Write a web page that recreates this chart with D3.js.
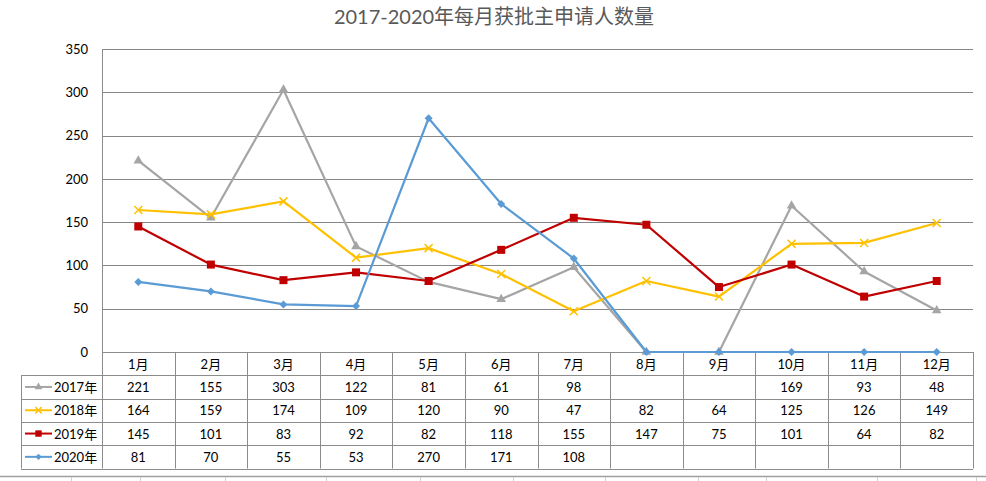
<!DOCTYPE html>
<html><head><meta charset="utf-8">
<script src="https://cdn.jsdelivr.net/npm/d3@7/dist/d3.min.js"></script>
<style>
html,body{margin:0;padding:0;background:#fff;}
svg{display:block;font-family:Lato,"Noto Sans CJK SC",sans-serif;}
</style></head>
<body>
<svg id="chart" width="986" height="481"></svg>
<script>
const months = ["1月","2月","3月","4月","5月","6月","7月","8月","9月","10月","11月","12月"];
const seriesNames = ["2017年","2018年","2019年","2020年"];
const v2017 = [221,155,303,122,81,61,98,null,null,169,93,48];
const v2018 = [164,159,174,109,120,90,47,82,64,125,126,149];
const v2019 = [145,101,83,92,82,118,155,147,75,101,64,82];
const v2020 = [81,70,55,53,270,171,108,null,null,null,null,null];
const yTicks = [0,50,100,150,200,250,300,350];
const chartTitle = "2017-2020年每月获批主申请人数量";

(function(){
const colors = ["#A5A5A5","#FFC000","#C00000","#5B9BD5"];
const markers = ["triangle","cross","square","diamond"];
const allSeries = [v2017,v2018,v2019,v2020];

const svg = d3.select("#chart");
const pL = 102, pR = 973, pT = 49, pB = 352;
const rowH = 23.3;

const x = d3.scaleBand().domain(months).range([pL,pR]).paddingInner(0).paddingOuter(0);
const y = d3.scaleLinear().domain([0,350]).range([pB,pT]);

svg.append("text").attr("x",494).attr("y",24).attr("text-anchor","middle")
  .attr("font-size",20).attr("fill","#595959").text(chartTitle);

svg.append("g").selectAll("line").data(yTicks.filter(d=>d>0)).join("line")
  .attr("x1",pL).attr("x2",pR).attr("y1",d=>Math.round(y(d))+0.5).attr("y2",d=>Math.round(y(d))+0.5)
  .attr("stroke","#868686").attr("stroke-width",1);

const yAxis = d3.axisLeft(y).tickValues(yTicks).tickSize(0).tickPadding(14);
const ya = svg.append("g").attr("transform",`translate(${pL},0)`).call(yAxis);
ya.select(".domain").remove();
ya.selectAll("text").attr("font-size",13).attr("fill","#000").attr("font-family","Lato,'Noto Sans CJK SC',sans-serif");

const tableTop = pB;
const rows = 5;
const tableBottom = tableTop + rows*rowH;
const legendLeft = 21;
const g = svg.append("g").attr("stroke","#8c8c8c").attr("stroke-width",1);
for(let i=0;i<=rows;i++){
  const yy = Math.round(tableTop+i*rowH)+0.5;
  g.append("line").attr("x1", i===0?pL:legendLeft).attr("x2",pR).attr("y1",yy).attr("y2",yy);
}
g.append("line").attr("x1",legendLeft+0.5).attr("x2",legendLeft+0.5).attr("y1",tableTop+rowH).attr("y2",tableBottom);
g.append("line").attr("x1",pL+0.5).attr("x2",pL+0.5).attr("y1",pT).attr("y2",tableBottom);
months.forEach(m=>{
  const xx = Math.round(x(m)+x.bandwidth())+0.5;
  g.append("line").attr("x1",xx).attr("x2",xx).attr("y1",tableTop).attr("y2",tableBottom);
});

svg.append("g").selectAll("text").data(months).join("text")
  .attr("x",d=>x(d)+x.bandwidth()/2).attr("y",tableTop+rowH/2+5)
  .attr("text-anchor","middle").attr("font-size",13).attr("fill","#000").text(d=>d);

function drawMarker(parent, type, cx, cy, color, s){
  s = s||1;
  if(type==="triangle"){
    parent.append("path").attr("d",d3.symbol(d3.symbolTriangle, 40*s*s)()).attr("transform",`translate(${cx},${cy})`).attr("fill",color);
  } else if(type==="square"){
    const w=8*s;
    parent.append("rect").attr("x",cx-w/2).attr("y",cy-w/2).attr("width",w).attr("height",w).attr("fill",color);
  } else if(type==="diamond"){
    const r=4*s;
    parent.append("path").attr("d",`M${cx},${cy-r}L${cx+r},${cy}L${cx},${cy+r}L${cx-r},${cy}Z`).attr("fill",color);
  } else if(type==="cross"){
    const r=4*s;
    parent.append("path").attr("d",`M${cx-r},${cy-r}L${cx+r},${cy+r}M${cx-r},${cy+r}L${cx+r},${cy-r}`).attr("stroke",color).attr("stroke-width",1.5).attr("fill","none");
  }
}

allSeries.forEach((vals,si)=>{
  const ry = tableTop+(si+1)*rowH+rowH/2+5;
  svg.append("g").selectAll("text").data(vals.map((v,i)=>({v,m:months[i]})).filter(d=>d.v!==null)).join("text")
    .attr("x",d=>x(d.m)+x.bandwidth()/2).attr("y",ry)
    .attr("text-anchor","middle").attr("font-size",13).attr("fill","#000").text(d=>d.v);
  const ky = tableTop+(si+1)*rowH+rowH/2;
  svg.append("line").attr("x1",25).attr("x2",52).attr("y1",ky).attr("y2",ky)
    .attr("stroke",colors[si]).attr("stroke-width",2);
  drawMarker(svg, markers[si], 38.5, ky, colors[si], 0.8);
  svg.append("text").attr("x",54).attr("y",ry).attr("font-size",13).attr("fill","#000").text(seriesNames[si]);
});

const line = d3.line().x(d=>x(d.m)+x.bandwidth()/2).y(d=>y(d.v===null?0:d.v));
allSeries.forEach((vals,si)=>{
  const data = vals.map((v,i)=>({v,m:months[i]}));
  svg.append("path").datum(data).attr("d",line).attr("fill","none")
    .attr("stroke",colors[si]).attr("stroke-width",2.2).attr("stroke-linejoin","round");
  data.forEach(d=>drawMarker(svg, markers[si], x(d.m)+x.bandwidth()/2, y(d.v===null?0:d.v), colors[si], 1));
});

svg.append("line").attr("x1",0).attr("x2",986).attr("y1",476.5).attr("y2",476.5).attr("stroke","#a0a0a0").attr("stroke-width",1.5);
const cuts = [71,140,225,326,420,513,605,698,766,877,976];
svg.append("g").selectAll("line").data(cuts).join("line")
  .attr("x1",d=>d+0.5).attr("x2",d=>d+0.5).attr("y1",477).attr("y2",481).attr("stroke","#d0d0d0");
})();
</script>
</body></html>
